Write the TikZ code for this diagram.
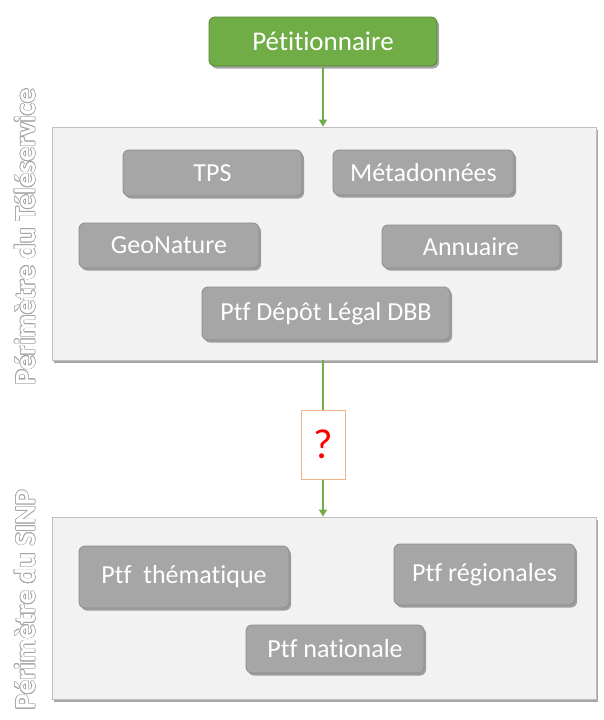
\documentclass[tikz,border=0pt]{standalone}
\usepackage{fontspec}
\setmainfont{Carlito}[Ligatures=NoCommon]
\usepackage[copies]{contour}
\usetikzlibrary{shadows,arrows.meta}
\definecolor{petgreen}{HTML}{70AD47}
\definecolor{petgreendk}{HTML}{548235}
\definecolor{boxgray}{HTML}{A6A6A6}
\definecolor{boxgraydk}{HTML}{8C8C8C}
\definecolor{panelfill}{HTML}{F2F2F2}
\definecolor{panelline}{HTML}{BFBFBF}
\definecolor{qorange}{HTML}{F4B183}
\definecolor{sidegray}{HTML}{A6A6A6}
\contourlength{0.6pt}
\tikzset{
  shade/.style={drop shadow={shadow xshift=2pt,shadow yshift=-2.5pt,opacity=0.35,fill=black}},
  panel/.style={draw=panelline,fill=panelfill,line width=0.8pt,shade},
  greybox/.style={draw=boxgraydk,fill=boxgray,rounded corners=6pt,line width=0.8pt,
    text=white,font=\fontsize{26}{30}\selectfont,shade},
  greenbox/.style={draw=petgreendk,fill=petgreen,rounded corners=6pt,line width=0.8pt,
    text=white,font=\fontsize{27}{31}\selectfont,shade},
  qbox/.style={draw=qorange,fill=white,line width=1pt,text=red,font=\fontsize{42}{46}\selectfont},
  link/.style={draw=petgreen,line width=1.5pt},
  flow/.style={link,-{Triangle[length=7pt,width=8pt]}},
  sidelabel/.style={rotate=90,font=\fontsize{29}{33}\selectfont\bfseries}
}
\newcommand{\outlined}[1]{\contour{sidegray}{\textcolor{white}{#1}}}
\begin{document}
\begin{tikzpicture}[x=1pt,y=-1pt]
\useasboundingbox (0,0) rectangle (604,720);

% Perimeter panels
\node[panel,minimum width=544pt,minimum height=233pt] (panelA) at (324,243.5) {};
\node[panel,minimum width=544pt,minimum height=182pt] (panelB) at (324,608) {};

% Petitioner
\node[greenbox,minimum width=228pt,minimum height=49pt] (pet) at (323,41.5) {Pétitionnaire};

% Teleservice components
\node[greybox,minimum width=179pt,minimum height=46pt] (tps) at (212.5,173) {TPS};
\node[greybox,minimum width=181pt,minimum height=45pt] (meta) at (423.5,172.5) {Métadonnées};
\node[greybox,minimum width=180pt,minimum height=45pt] (geo) at (169,245.5) {GeoNature};
\node[greybox,minimum width=178pt,minimum height=43pt] (annu) at (471,246.5) {Annuaire};
\node[greybox,minimum width=248pt,minimum height=53pt] (dbb) at (326,313.5) {Ptf Dépôt Légal DBB};

% SINP platforms
\node[greybox,minimum width=210pt,minimum height=62pt] (them) at (184,577) {Ptf\ \ thématique};
\node[greybox,minimum width=181pt,minimum height=61pt] (reg) at (484.5,574.5) {Ptf régionales};
\node[greybox,minimum width=178pt,minimum height=48pt] (nat) at (335,649) {Ptf nationale};

% Unknown link between the perimeters
\node[qbox,minimum width=44pt,minimum height=69pt,inner sep=0pt] (q) at (323,444.5) {?};

% Connectors
\draw[flow] (pet.south) -- (pet.south |- panelA.north);
\draw[link] (q.north |- panelA.south) -- (q.north);
\draw[flow] (q.south) -- (q.south |- panelB.north);

% Perimeter captions
\node[sidelabel] (capA) at (25,237) {\outlined{Périmètre du Téléservice}};
\node[sidelabel] (capB) at (25,600) {\outlined{Périmètre du SINP}};
\end{tikzpicture}
\end{document}
